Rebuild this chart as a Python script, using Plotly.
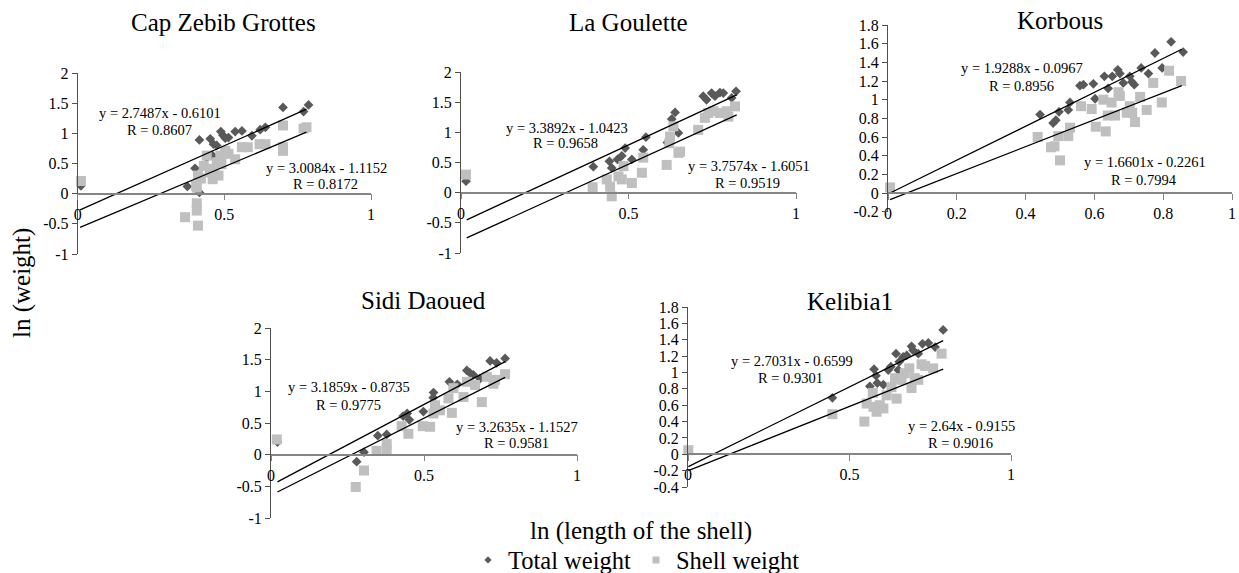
import plotly.graph_objects as go

W, H = 1239, 573

# ---------------- data ----------------
titles = ["Cap Zebib Grottes", "La Goulette", "Korbous", "Sidi Daoued", "Kelibia1"]

cz_total_x = [0.011, 0.374, 0.40, 0.415, 0.415, 0.44, 0.452, 0.46, 0.463, 0.474, 0.488, 0.495, 0.503, 0.514,
              0.537, 0.56, 0.594, 0.622, 0.64, 0.70, 0.77, 0.787]
cz_total_y = [0.13, 0.12, 0.42, 0.89, 0.02, 0.60, 0.91, 0.63, 0.82, 0.80, 1.03, 0.97, 0.92, 0.93,
              1.03, 1.04, 0.96, 1.06, 1.10, 1.43, 1.36, 1.47]
cz_shell_x = [0.011, 0.366, 0.406, 0.406, 0.406, 0.41, 0.404, 0.41, 0.42, 0.43, 0.44, 0.45, 0.46, 0.463, 0.474,
              0.48, 0.486, 0.49, 0.503, 0.514, 0.537, 0.56, 0.58, 0.62, 0.64, 0.70, 0.70, 0.70, 0.77, 0.78]
cz_shell_y = [0.21, -0.39, -0.28, -0.16, 0.10, -0.53, 0.13, 0.30, 0.25, 0.46, 0.63, 0.35, 0.24, 0.41, 0.52,
              0.30, 0.63, 0.49, 0.71, 0.66, 0.57, 0.77, 0.77, 0.82, 0.82, 0.77, 0.71, 1.13, 1.08, 1.10]
cz_trend_x = [0.008, 0.78]
cz_trend_total = [-0.27, 1.40]
cz_trend_shell = [-0.56, 1.02]

lg_total_x = [0.015, 0.395, 0.443, 0.45, 0.467, 0.48, 0.49, 0.51, 0.544, 0.552, 0.616, 0.629, 0.639, 0.649,
              0.723, 0.733, 0.748, 0.758, 0.773, 0.783, 0.808, 0.821]
lg_total_y = [0.19, 0.43, 0.52, 0.41, 0.55, 0.61, 0.74, 0.55, 0.71, 0.92, 0.83, 1.22, 1.33, 0.99,
              1.60, 1.54, 1.65, 1.60, 1.66, 1.65, 1.57, 1.68]
lg_shell_x = [0.015, 0.393, 0.435, 0.445, 0.45, 0.47, 0.48, 0.485, 0.51, 0.54, 0.544, 0.614, 0.622, 0.624,
              0.634, 0.649, 0.654, 0.708, 0.728, 0.738, 0.753, 0.773, 0.793, 0.798, 0.818]
lg_shell_y = [0.30, 0.09, 0.22, 0.10, -0.06, 0.27, 0.22, 0.44, 0.16, 0.33, 0.58, 0.46, 0.82, 0.93,
              1.10, 0.66, 0.68, 1.04, 1.24, 1.32, 1.35, 1.32, 1.35, 1.26, 1.43]
lg_trend_x = [0.017, 0.823]
lg_trend_total = [-0.45, 1.62]
lg_trend_shell = [-0.75, 1.29]

kb_total_x = [0.442, 0.48, 0.488, 0.497, 0.524, 0.529, 0.558, 0.568, 0.597, 0.602, 0.629, 0.64, 0.652, 0.668,
              0.674, 0.684, 0.703, 0.709, 0.716, 0.736, 0.757, 0.776, 0.797, 0.823, 0.858]
kb_total_y = [0.84, 0.75, 0.78, 0.87, 0.89, 0.97, 1.15, 1.16, 1.17, 1.01, 1.25, 1.12, 1.25, 1.32,
              1.28, 1.18, 1.25, 1.19, 1.16, 1.34, 1.28, 1.50, 1.34, 1.62, 1.51]
kb_shell_x = [0.006, 0.435, 0.474, 0.484, 0.50, 0.495, 0.524, 0.529, 0.561, 0.592, 0.604, 0.626, 0.633, 0.639,
              0.65, 0.66, 0.67, 0.674, 0.694, 0.703, 0.71, 0.718, 0.733, 0.752, 0.771, 0.796, 0.817, 0.852]
kb_shell_y = [0.06, 0.60, 0.49, 0.50, 0.35, 0.61, 0.61, 0.70, 0.93, 0.90, 0.71, 1.00, 0.66, 0.83,
              0.97, 0.83, 1.08, 1.04, 0.86, 0.93, 0.86, 0.76, 1.03, 0.89, 1.18, 0.97, 1.31, 1.20]
kb_trend_x = [0.006, 0.854]
kb_trend_total = [0.0, 1.54]
kb_trend_shell = [-0.07, 1.15]

sd_total_x = [0.021, 0.28, 0.304, 0.349, 0.378, 0.432, 0.445, 0.452, 0.498, 0.53, 0.531, 0.583, 0.609, 0.64,
              0.65, 0.661, 0.683, 0.716, 0.737, 0.765]
sd_total_y = [0.20, -0.11, 0.04, 0.30, 0.32, 0.61, 0.65, 0.55, 0.68, 0.90, 0.98, 1.15, 1.11, 1.33,
              1.29, 1.26, 1.20, 1.48, 1.45, 1.52]
sd_shell_x = [0.019, 0.277, 0.304, 0.345, 0.378, 0.378, 0.427, 0.449, 0.496, 0.52, 0.531, 0.536, 0.552, 0.58,
              0.591, 0.596, 0.629, 0.64, 0.667, 0.689, 0.705, 0.727, 0.732, 0.765]
sd_shell_y = [0.24, -0.51, -0.25, 0.06, 0.17, 0.07, 0.45, 0.33, 0.45, 0.44, 0.65, 0.78, 0.70, 0.89,
              0.66, 1.05, 0.91, 1.15, 1.10, 0.83, 1.23, 1.12, 1.18, 1.27]
sd_trend_x = [0.021, 0.765]
sd_trend_total = [-0.43, 1.47]
sd_trend_shell = [-0.59, 1.22]

ke_total_x = [0.447, 0.563, 0.576, 0.582, 0.586, 0.605, 0.62, 0.628, 0.644, 0.651, 0.654, 0.666, 0.677, 0.692,
              0.697, 0.713, 0.726, 0.744, 0.765, 0.79]
ke_total_y = [0.69, 0.83, 1.04, 0.96, 0.87, 0.85, 1.03, 1.07, 1.23, 1.03, 1.13, 1.19, 1.21, 1.32,
              1.27, 1.23, 1.35, 1.36, 1.31, 1.52]
ke_shell_x = [0.001, 0.447, 0.546, 0.553, 0.572, 0.574, 0.584, 0.594, 0.605, 0.615, 0.63, 0.646, 0.641, 0.661,
              0.671, 0.685, 0.692, 0.702, 0.713, 0.723, 0.734, 0.759, 0.785]
ke_shell_y = [0.05, 0.49, 0.40, 0.62, 0.75, 0.58, 0.52, 0.60, 0.56, 0.72, 0.82, 0.68, 0.93, 0.91,
              0.99, 1.05, 0.81, 0.93, 0.91, 1.10, 1.08, 1.05, 1.23]
ke_trend_x = [0.001, 0.79]
ke_trend_total = [-0.15, 1.39]
ke_trend_shell = [-0.20, 1.04]

eq_total = ["y = 2.7487x - 0.6101", "y = 3.3892x - 1.0423", "y = 1.9288x - 0.0967",
            "y = 3.1859x - 0.8735", "y = 2.7031x - 0.6599"]
r_total = ["R = 0.8607", "R = 0.9658", "R = 0.8956", "R = 0.9775", "R = 0.9301"]
eq_shell = ["y = 3.0084x - 1.1152", "y = 3.7574x - 1.6051", "y = 1.6601x - 0.2261",
            "y = 3.2635x - 1.1527", "y = 2.64x - 0.9155"]
r_shell = ["R = 0.8172", "R = 0.9519", "R = 0.7994", "R = 0.9581", "R = 0.9016"]

yt_a = [-1, -0.5, 0, 0.5, 1, 1.5, 2]
yl_a = ["-1", "-0.5", "0", "0.5", "1", "1.5", "2"]
yt_b = [-0.2, 0, 0.2, 0.4, 0.6, 0.8, 1, 1.2, 1.4, 1.6, 1.8]
yl_b = ["-0.2", "0", "0.2", "0.4", "0.6", "0.8", "1", "1.2", "1.4", "1.6", "1.8"]
yt_c = [-0.4, -0.2, 0, 0.2, 0.4, 0.6, 0.8, 1, 1.2, 1.4, 1.6, 1.8]
yl_c = ["-0.4", "-0.2", "0", "0.2", "0.4", "0.6", "0.8", "1", "1.2", "1.4", "1.6", "1.8"]
xt_a = [0, 0.5, 1]
xl_a = ["0", "0.5", "1"]
xt_b = [0, 0.2, 0.4, 0.6, 0.8, 1]
xl_b = ["0", "0.2", "0.4", "0.6", "0.8", "1"]

x_title = "ln (length of the shell)"
y_title = "ln (weight)"
legend_names = ["Total weight", "Shell weight"]

# ---------------- layout geometry (pixels) ----------------
FONT = "Liberation Serif, Times New Roman, serif"
DARK = "#595959"
LIGHT = "#BFBFBF"
XAXC = "#858585"
YAXC = "#505050"

panels = [
    dict(tx=cz_total_x, ty=cz_total_y, sx=cz_shell_x, sy=cz_shell_y, lx=cz_trend_x, lt=cz_trend_total, ls=cz_trend_shell,
         px=(77.7, 371), py=(254, 73), yr=(-1, 2), yt=(yt_a, yl_a), xt=(xt_a, xl_a),
         title=(223.5, 23), e1=(160, 113), r1=(159, 130), e2=(326, 168), r2=(325, 184)),
    dict(tx=lg_total_x, ty=lg_total_y, sx=lg_shell_x, sy=lg_shell_y, lx=lg_trend_x, lt=lg_trend_total, ls=lg_trend_shell,
         px=(461, 796), py=(253, 72), yr=(-1, 2), yt=(yt_a, yl_a), xt=(xt_a, xl_a),
         title=(628.5, 23), e1=(566.7, 127.7), r1=(565.8, 143.3), e2=(749, 165.7), r2=(747.5, 183.3)),
    dict(tx=kb_total_x, ty=kb_total_y, sx=kb_shell_x, sy=kb_shell_y, lx=kb_trend_x, lt=kb_trend_total, ls=kb_trend_shell,
         px=(888, 1232), py=(211.7, 25), yr=(-0.2, 1.8), yt=(yt_b, yl_b), xt=(xt_b, xl_b),
         title=(1060, 21), e1=(1021.7, 68.3), r1=(1021.7, 86), e2=(1145, 162.3), r2=(1144, 180)),
    dict(tx=sd_total_x, ty=sd_total_y, sx=sd_shell_x, sy=sd_shell_y, lx=sd_trend_x, lt=sd_trend_total, ls=sd_trend_shell,
         px=(271, 577), py=(518, 328), yr=(-1, 2), yt=(yt_a, yl_a), xt=(xt_a, xl_a),
         title=(423, 300), e1=(348.5, 387.3), r1=(348, 405), e2=(517, 426.7), r2=(516.7, 443.3)),
    dict(tx=ke_total_x, ty=ke_total_y, sx=ke_shell_x, sy=ke_shell_y, lx=ke_trend_x, lt=ke_trend_total, ls=ke_trend_shell,
         px=(688, 1011), py=(487, 307), yr=(-0.4, 1.8), yt=(yt_c, yl_c), xt=(xt_a, xl_a),
         title=(850, 301), e1=(792, 360.7), r1=(790.5, 378.3), e2=(961, 426), r2=(960.7, 443.3)),
]

fig = go.Figure()
annotations = []
layout_axes = {}


def fx(px):
    return px / W


def fy(py):
    return 1 - py / H


for i, p in enumerate(panels):
    n = "" if i == 0 else str(i + 1)
    xa, ya = "x" + n, "y" + n
    fig.add_trace(go.Scatter(x=p["tx"], y=p["ty"], mode="markers", name=legend_names[0],
                             marker=dict(symbol="diamond", size=7.5, color=DARK, line=dict(width=0)),
                             showlegend=False, xaxis=xa, yaxis=ya, cliponaxis=False))
    fig.add_trace(go.Scatter(x=p["sx"], y=p["sy"], mode="markers", name=legend_names[1],
                             marker=dict(symbol="square", size=10, color=LIGHT, line=dict(width=0)),
                             showlegend=False, xaxis=xa, yaxis=ya, cliponaxis=False))
    fig.add_trace(go.Scatter(x=p["lx"], y=p["lt"], mode="lines", line=dict(color="black", width=1.3),
                             showlegend=False, xaxis=xa, yaxis=ya, cliponaxis=False, hoverinfo="skip"))
    fig.add_trace(go.Scatter(x=p["lx"], y=p["ls"], mode="lines", line=dict(color="black", width=1.3),
                             showlegend=False, xaxis=xa, yaxis=ya, cliponaxis=False, hoverinfo="skip"))

    ylo, yhi = p["yr"]
    d0, d1 = fy(p["py"][0]), fy(p["py"][1])
    xpos = d0 + (0 - ylo) / (yhi - ylo) * (d1 - d0)
    tickfont = dict(family=FONT, size=16, color="black")
    layout_axes["xaxis" + n] = dict(domain=[fx(p["px"][0]), fx(p["px"][1])], range=[0, 1], anchor="free",
                                    position=xpos, showline=True, linecolor=XAXC, linewidth=1.5,
                                    ticks="outside", ticklen=6, tickcolor=XAXC, tickvals=p["xt"][0],
                                    ticktext=p["xt"][1], showgrid=False, zeroline=False, tickfont=tickfont,
                                    fixedrange=True)
    layout_axes["yaxis" + n] = dict(domain=[d0, d1], range=[ylo, yhi], anchor=xa, showline=True,
                                    linecolor=YAXC, linewidth=1, ticks="outside", ticklen=5, tickcolor=YAXC,
                                    tickvals=p["yt"][0], ticktext=p["yt"][1], showgrid=False, zeroline=False,
                                    tickfont=tickfont, fixedrange=True)

    annotations.append(dict(text=titles[i], x=fx(p["title"][0]), y=fy(p["title"][1]), xref="paper", yref="paper",
                            showarrow=False, xanchor="center", yanchor="middle",
                            font=dict(family=FONT, size=25, color="black")))
    for key, txt in (("e1", eq_total[i]), ("r1", r_total[i]), ("e2", eq_shell[i]), ("r2", r_shell[i])):
        annotations.append(dict(text=txt, x=fx(p[key][0]), y=fy(p[key][1]), xref="paper", yref="paper",
                                showarrow=False, xanchor="center", yanchor="middle",
                                font=dict(family=FONT, size=14.5, color="black")))

# legend-only entries (smaller symbols, as in the reference legend)
fig.add_trace(go.Scatter(x=[None], y=[None], mode="markers", name=legend_names[0],
                         marker=dict(symbol="diamond", size=5.5, color=DARK, line=dict(width=0)),
                         showlegend=True, xaxis="x", yaxis="y"))
fig.add_trace(go.Scatter(x=[None], y=[None], mode="markers", name=legend_names[1],
                         marker=dict(symbol="square", size=7, color=LIGHT, line=dict(width=0)),
                         showlegend=True, xaxis="x", yaxis="y"))

annotations.append(dict(text=x_title, x=fx(641), y=fy(531), xref="paper", yref="paper", showarrow=False,
                        xanchor="center", yanchor="middle", font=dict(family=FONT, size=25, color="black")))
annotations.append(dict(text=y_title, x=fx(22), y=fy(283), xref="paper", yref="paper", showarrow=False,
                        textangle=-90, xanchor="center", yanchor="middle",
                        font=dict(family=FONT, size=25, color="black")))

fig.update_layout(
    width=W, height=H, autosize=False,
    margin=dict(l=0, r=0, t=0, b=0, autoexpand=False),
    paper_bgcolor="white", plot_bgcolor="white",
    font=dict(family=FONT, size=16, color="black"),
    annotations=annotations,
    legend=dict(orientation="h", x=fx(468), xanchor="left", y=fy(560), yanchor="middle",
                traceorder="normal",
                font=dict(family=FONT, size=24.5, color="black"), bgcolor="rgba(0,0,0,0)",
                borderwidth=0, itemclick=False, itemdoubleclick=False),
    hovermode=False,
    **layout_axes,
)

fig.write_html("out.html", config={"displayModeBar": False},
               post_script="document.body.style.margin='0';")
